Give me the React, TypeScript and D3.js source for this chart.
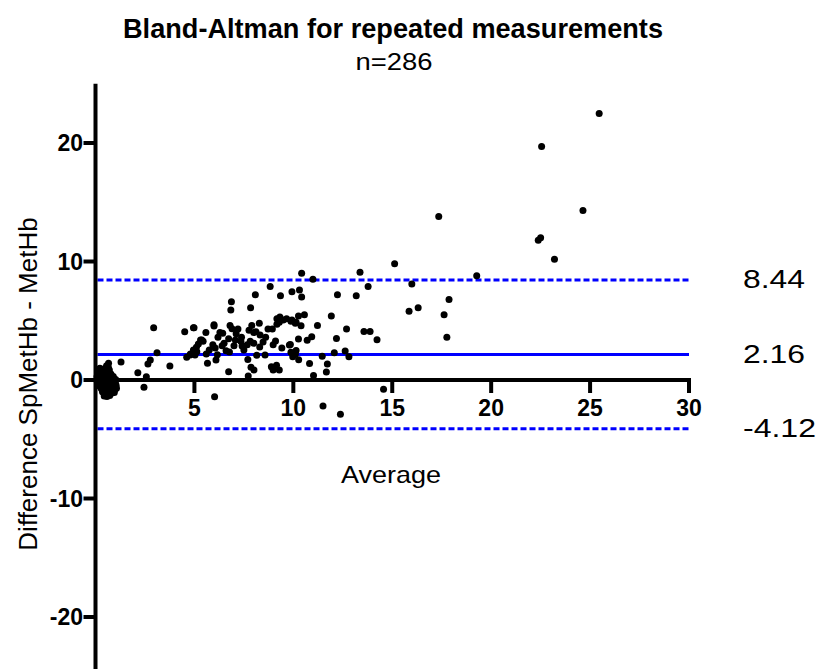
import React from 'react';
import * as d3 from 'd3';

const title = 'Bland-Altman for repeated measurements';
const subtitle = 'n=286';
const xLabel = 'Average';
const yLabel = 'Difference SpMetHb - MetHb';
const xTicks = [5, 10, 15, 20, 25, 30];
const yTicks = [20, 10, 0, -10, -20];
const limitValues = [8.44, 2.16, -4.12];
const limitLabels = ['8.44', '2.16', '-4.12'];
const limitDashed = [true, false, true];

// [average, difference]
const spreadPoints: [number, number][] = [
  [25.46, 22.5], [22.55, 19.7], [17.35, 13.8], [24.64, 14.3], [22.38, 11.8], [22.5, 12.0],
  [23.2, 10.2], [15.12, 9.8], [19.27, 8.8], [15.99, 8.1], [17.87, 6.8], [15.85, 5.8],
  [16.31, 6.1], [17.62, 5.5], [17.76, 3.6],
  [10.42, 9.0], [10.99, 8.5], [13.37, 9.1], [13.78, 7.9], [9.93, 7.45], [10.31, 7.6],
  [10.42, 7.0], [12.23, 7.2], [13.18, 7.1], [11.92, 5.4], [10.26, 5.4], [10.56, 5.5],
  [9.93, 5.06], [10.14, 4.87], [10.39, 4.58], [11.22, 4.6], [12.69, 4.3], [13.57, 4.1],
  [13.88, 4.1], [14.23, 3.4], [12.18, 3.5], [10.93, 3.65], [10.7, 3.35], [10.26, 3.46],
  [9.85, 3.0], [10.14, 2.5], [12.07, 2.3], [12.62, 2.45], [12.81, 1.97], [11.46, 2.0],
  [10.27, 1.7], [10.82, 1.4], [11.72, 1.35], [11.67, 0.68], [11.02, 0.37], [14.56, -0.79],
  [11.5, -2.2], [12.38, -2.9], [9.88, 2.34], [10.1, 2.17],
  [8.83, 7.9], [8.08, 7.2], [9.35, 7.1], [6.87, 6.6], [6.84, 5.9], [7.84, 6.1],
  [4.98, 4.4], [5.99, 4.67], [5.58, 4.0], [6.29, 4.0], [6.43, 3.94], [6.8, 4.6],
  [6.9, 4.33], [8.28, 4.78], [8.72, 4.3], [8.94, 4.3], [9.17, 5.17], [9.32, 5.32],
  [9.49, 5.06], [9.66, 5.17], [9.88, 4.95], [10.1, 4.78], [9.17, 4.7], [9.29, 4.87],
  [7.76, 4.2], [8.0, 4.0], [8.11, 4.08], [8.32, 3.8], [7.11, 3.9], [7.07, 3.38],
  [7.35, 3.27], [7.38, 3.6], [6.73, 3.49], [6.19, 3.6], [5.44, 3.27], [5.31, 3.38],
  [5.2, 3.04], [5.1, 2.76], [4.95, 2.53], [5.93, 2.98], [6.05, 2.7], [5.75, 2.53],
  [4.8, 2.2], [5.03, 2.1], [6.16, 2.14], [6.09, 1.69], [6.6, 2.47], [6.77, 2.36],
  [7.41, 2.87], [7.5, 2.53], [7.67, 2.98], [7.82, 3.27], [8.0, 3.1], [8.15, 2.08],
  [8.57, 2.1], [8.3, 2.78], [8.47, 3.2], [8.98, 2.98], [9.42, 2.7], [9.8, 2.95],
  [7.7, 1.74], [5.66, 1.41], [8.89, 1.12], [9.15, 1.24], [9.29, 0.84], [8.98, 0.84],
  [7.86, 1.07], [8.01, 0.84], [6.73, 0.7], [7.72, 0.34], [9.97, 1.97], [5.99, 4.56],
  [6.02, -1.41],
  [2.94, 4.41], [4.51, 4.08], [4.95, 4.41], [3.11, 2.3], [1.29, 1.52], [0.66, 1.41],
  [2.77, 1.69], [2.65, 1.35], [2.14, 0.62], [3.76, 1.18], [2.45, -0.62], [4.61, 1.91],
  [4.78, 2.1], [5.12, 2.39], [5.37, 3.38], [2.57, 0.28],
  [6.5, 3.1], [7.0, 2.9], [7.2, 4.3], [8.6, 3.6], [9.1, 3.3], [7.9, 4.6], [6.4, 2.9], [5.6, 2.2],
];

const clusterPoints: [number, number][] = [
  [0.1, 0.0], [0.15, 0.2], [0.2, -0.1], [0.12, -0.3], [0.25, 0.3], [0.3, 0.1], [0.35, -0.2], [0.18, 0.45], [0.22, -0.5], [0.28, -0.7],
  [0.4, 0.5], [0.45, 0.2], [0.5, -0.1], [0.55, -0.4], [0.6, 0.0], [0.38, -0.9], [0.42, -1.1], [0.5, -1.2], [0.6, -1.0], [0.65, -0.7],
  [0.7, -0.3], [0.75, 0.1], [0.8, -0.1], [0.85, -0.4], [0.72, -0.6], [0.55, 0.7], [0.6, 0.9], [0.65, 1.05], [0.5, 0.85], [0.45, 0.6],
  [0.08, 0.3], [0.1, -0.2], [0.14, 0.1], [0.2, 0.25], [0.26, 0.0], [0.32, -0.35], [0.36, 0.35], [0.44, -0.6], [0.48, 0.4], [0.52, 0.15],
  [0.58, -0.25], [0.62, -0.55], [0.68, 0.3], [0.74, -0.15], [0.78, -0.45], [0.82, 0.05], [0.3, 0.6], [0.34, -0.05], [0.4, -0.45], [0.46, -0.8],
  [0.56, -0.95], [0.66, -0.85], [0.7, 0.55], [0.62, 0.45], [0.24, -0.25], [0.16, -0.45], [0.12, 0.55], [0.2, 0.7], [0.28, 0.4], [0.38, 0.15],
  [0.42, 0.75], [0.53, 0.5], [0.57, 0.25], [0.64, 0.1], [0.76, -0.8], [0.8, -0.65], [0.86, -0.2], [0.9, -0.05], [0.35, -1.0], [0.47, -1.3],
  [0.54, -1.15], [0.61, -1.25], [0.69, -1.05], [0.73, 0.35], [0.66, 0.75], [0.58, 0.95], [0.48, 0.95], [0.44, -0.2], [0.33, 0.2], [0.27, -0.4],
  [0.19, 0.05], [0.09, 0.15], [0.11, -0.1], [0.13, 0.35], [0.17, -0.2], [0.21, -0.35], [0.23, 0.15], [0.31, -0.15], [0.37, 0.45], [0.41, -0.7],
  [0.49, -0.5], [0.51, 0.3], [0.59, -0.7], [0.63, -0.15], [0.67, -0.4], [0.71, 0.0], [0.77, 0.2], [0.83, -0.3], [0.39, 0.9], [0.53, 1.0],
  [0.92, -0.3], [0.96, -0.55], [1.0, -0.2], [1.04, -0.45], [0.94, 0.1], [0.98, -0.8], [0.88, -0.9], [1.02, 0.05], [0.9, 0.3], [0.84, -1.1],
  [0.72, -1.3], [0.58, -1.4], [0.44, -1.35], [0.78, 0.5], [0.7, 0.85], [0.56, 1.2], [0.3, 0.9], [0.22, 1.0], [1.06, -0.7], [0.95, -1.05],
];

const FONT = '"Liberation Sans", Arial, Helvetica, sans-serif';
const BLUE = '#0000ff';

export default function App() {
  const W = 818;
  const H = 669;
  const x = d3.scaleLinear().domain([0, 30]).range([95.5, 689]);
  const y = d3.scaleLinear().domain([-25, 25]).range([676.25, 83.75]);
  const allPoints = [...clusterPoints, ...spreadPoints];

  return (
    <svg
      width={W}
      height={H}
      viewBox={`0 0 ${W} ${H}`}
      style={{ position: 'absolute', left: 0, top: 0, background: '#fff' }}
      fontFamily={FONT}
    >
      <rect x={0} y={0} width={W} height={H} fill="#fff" />
      {/* title */}
      <text x={393} y={37.5} textAnchor="middle" fontWeight="bold" fontSize={27} textLength={540} lengthAdjust="spacingAndGlyphs">
        {title}
      </text>
      <text x={394} y={70} textAnchor="middle" fontSize={24} textLength={77} lengthAdjust="spacingAndGlyphs">
        {subtitle}
      </text>

      {/* limit lines */}
      {limitValues.map((v, i) => (
        <line
          key={'lim' + i}
          x1={x(0) + 2}
          x2={x(30)}
          y1={y(v)}
          y2={y(v)}
          stroke={BLUE}
          strokeWidth={3}
          strokeDasharray={limitDashed[i] ? '6 3' : undefined}
        />
      ))}
      {limitValues.map((v, i) => (
        <text
          key={'limt' + i}
          x={743}
          y={y(v) + 8.5}
          fontSize={25}
          textLength={limitLabels[i].length === 5 ? 73 : 62}
          lengthAdjust="spacingAndGlyphs"
        >
          {limitLabels[i]}
        </text>
      ))}

      {/* points */}
      {allPoints.map((p, i) => (
        <circle key={'p' + i} cx={x(p[0])} cy={y(p[1])} r={3.5} fill="#000" />
      ))}

      {/* y axis */}
      <line x1={x(0)} x2={x(0)} y1={y(25)} y2={H + 5} stroke="#000" strokeWidth={4} />
      {yTicks.map((t) => (
        <g key={'yt' + t}>
          <line x1={x(0) - 12} x2={x(0)} y1={y(t)} y2={y(t)} stroke="#000" strokeWidth={4} />
          <text x={83} y={y(t)} dy="0.36em" textAnchor="end" fontWeight="bold" fontSize={23}>
            {t}
          </text>
        </g>
      ))}

      {/* x axis */}
      <line x1={x(0) - 2} x2={x(30) + 2} y1={y(0)} y2={y(0)} stroke="#000" strokeWidth={4} />
      {xTicks.map((t) => (
        <g key={'xt' + t}>
          <line x1={x(t)} x2={x(t)} y1={y(0)} y2={y(0) + 13} stroke="#000" strokeWidth={4} />
          <text x={x(t)} y={416} textAnchor="middle" fontWeight="bold" fontSize={23}>
            {t}
          </text>
        </g>
      ))}

      {/* axis labels */}
      <text x={391} y={483} textAnchor="middle" fontSize={24} textLength={100} lengthAdjust="spacingAndGlyphs">
        {xLabel}
      </text>
      <text transform="translate(37, 384) rotate(-90)" textAnchor="middle" fontSize={26}>
        {yLabel}
      </text>
    </svg>
  );
}
